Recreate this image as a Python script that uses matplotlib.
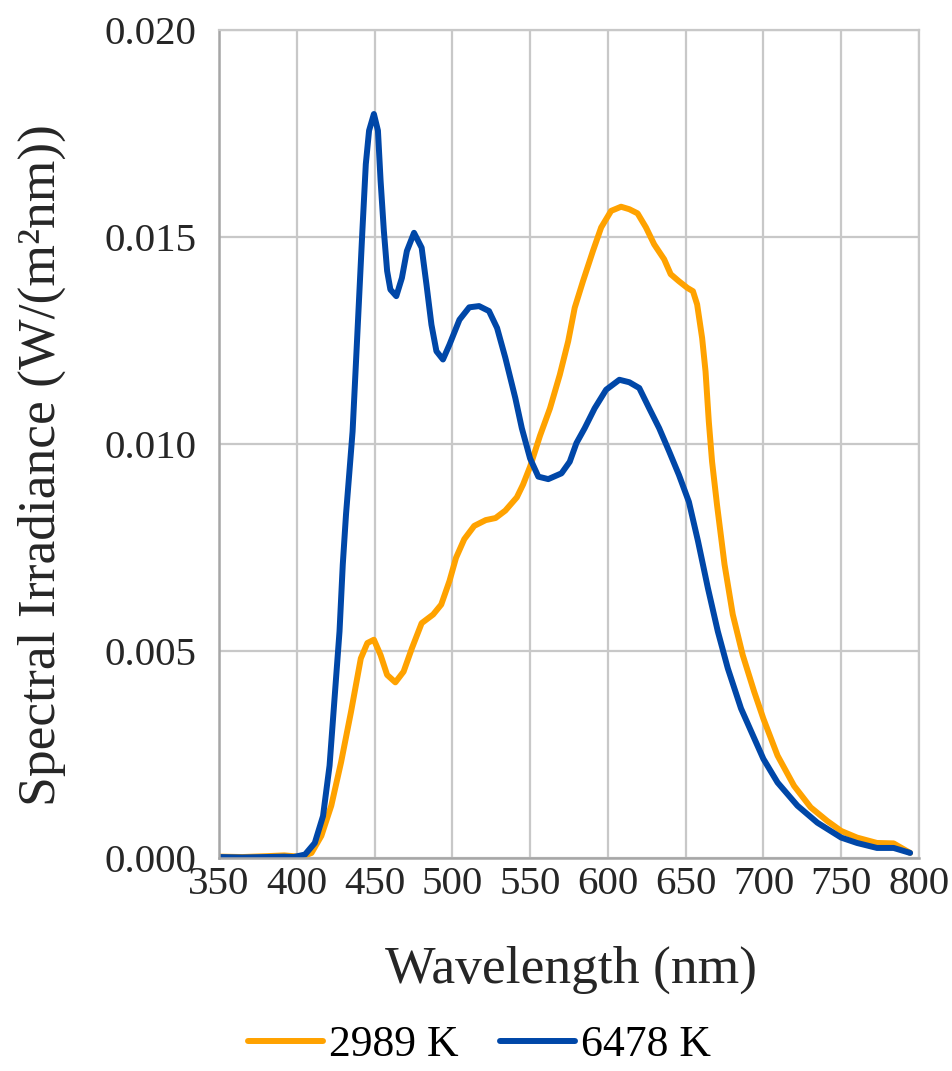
import matplotlib
matplotlib.use('Agg')
import matplotlib.pyplot as plt

plt.rcParams['font.family'] = ['Liberation Serif', 'DejaVu Serif']

# 2989 K spectrum
wl_warm = [350, 365, 380, 392, 398, 403.2, 409.5, 415.8, 422.2, 428.5, 434.9, 441.2, 445.4,
           449.6, 453.9, 458.1, 463.4, 468.7, 474, 480.3, 487.7, 492.9, 498.2, 502.4,
           507.7, 514.1, 521.5, 527.8, 534.1, 541.5, 545.5, 550, 556.4, 562.8, 569.1,
           574.5, 578.7, 584, 590.4, 595.7, 602.1, 608.5, 613.8, 619.1, 624.5, 629.8,
           636.2, 640.4, 645.7, 651.1, 654.7, 657.4, 660.6, 662.8, 664.9, 667, 670.2,
           675, 680.3, 686.7, 694.1, 700, 709.1, 719.7, 730.4, 741.1, 750, 760.2, 773,
           783.7, 794.3]
irr_warm = [0.00003, 0.00002, 0.00004, 0.00006, 0.00004, 0.00002, 0.00012, 0.00053, 0.00126,
            0.00231, 0.00353, 0.00482, 0.00519, 0.00527, 0.0049, 0.00442, 0.00424,
            0.0045, 0.00506, 0.00567, 0.00588, 0.00612, 0.00669, 0.00725, 0.0077,
            0.00802, 0.00816, 0.00821, 0.00839, 0.00871, 0.00902, 0.00945, 0.0102,
            0.01086, 0.01167, 0.01248, 0.01329, 0.01393, 0.01466, 0.01523, 0.01563,
            0.01573, 0.01567, 0.01557, 0.01523, 0.01482, 0.01446, 0.0141, 0.01393,
            0.01377, 0.01369, 0.01337, 0.01256, 0.01175, 0.01054, 0.00957, 0.00852,
            0.00709, 0.00588, 0.0049, 0.00401, 0.00336, 0.00247, 0.00174, 0.00122,
            0.00089, 0.00065, 0.00049, 0.00036, 0.00035, 0.00012]

# 6478 K spectrum
wl_cool = [350, 365, 380, 392, 398, 405.3, 411.6, 416.9, 421.1, 424.3, 427.5, 429.6, 431.7,
           433.8, 435.9, 438, 440.1, 442.2, 444.4, 446.5, 449.6, 452.2, 453.9, 456,
           458.1, 460.2, 464, 467.6, 470.8, 475.4, 480.3, 483.4, 486.6, 489.8, 494,
           498.2, 504.6, 510.9, 517.2, 523.6, 528.8, 534.1, 540.5, 544.7, 550, 555.3,
           561.7, 570.2, 575.5, 579.8, 585.1, 591.5, 598.9, 607.4, 613.8, 620.2, 626.6,
           633, 639.4, 645.7, 652.1, 657.9, 664.3, 670.7, 677.1, 685.6, 694.2, 700,
           709.1, 721.9, 734.7, 750, 760.2, 773, 783.7, 794.3]
irr_cool = [0.00002, 0.00001, 0.00002, 0.00003, 0.00002, 0.00008, 0.00036, 0.00101, 0.00223,
            0.00385, 0.00547, 0.00709, 0.00831, 0.0093, 0.0103, 0.01191, 0.01353,
            0.01515, 0.01676, 0.01757, 0.01797, 0.01757, 0.01636, 0.01515, 0.01418,
            0.01373, 0.01357, 0.01401, 0.01466, 0.0151, 0.01474, 0.01385, 0.01288,
            0.01224, 0.01204, 0.0124, 0.013, 0.0133, 0.01333, 0.01321, 0.0128, 0.01208,
            0.01111, 0.01038, 0.00965, 0.00921, 0.00915, 0.00929, 0.00957, 0.01002,
            0.01038, 0.01086, 0.01131, 0.01155, 0.01149, 0.01135, 0.01086, 0.01038,
            0.00982, 0.00925, 0.0086, 0.00766, 0.00652, 0.00547, 0.00458, 0.00361,
            0.00288, 0.00239, 0.00182, 0.00126, 0.00085, 0.00049, 0.00036, 0.00024,
            0.00024, 0.00012]

x_ticks = [350, 400, 450, 500, 550, 600, 650, 700, 750, 800]
y_ticks = [0.000, 0.005, 0.010, 0.015, 0.020]

fig = plt.figure(figsize=(9.52, 10.71), dpi=100)
ax = fig.add_axes([0.230, 0.199, 0.7353, 0.773])

ax.plot(wl_warm, irr_warm, color='#FFA200', lw=4.3, label='2989 K',
        solid_capstyle='round', solid_joinstyle='round')
ax.plot(wl_cool, irr_cool, color='#0047A8', lw=4.3, label='6478 K',
        solid_capstyle='round', solid_joinstyle='round')

ax.set_xlim(350, 800)
ax.set_ylim(0, 0.020)
ax.set_xticks(x_ticks)
ax.set_yticks(y_ticks)
ax.set_yticklabels([f'{v:.3f}' for v in y_ticks])
ax.tick_params(length=0, labelsize=29.5, colors='#262626')
ax.tick_params(axis='x', pad=6)
ax.tick_params(axis='y', pad=16)
ax.grid(True, color='#c8c8c8', lw=1.6)
ax.set_axisbelow(True)
for side in ['top', 'right']:
    ax.spines[side].set_color('#c8c8c8')
    ax.spines[side].set_linewidth(1.6)
for side in ['left', 'bottom']:
    ax.spines[side].set_color('#a6a6a6')
    ax.spines[side].set_linewidth(1.8)

ax.set_xlabel('Wavelength (nm)', fontsize=38.5, color='#262626')
ax.xaxis.set_label_coords(0.503, -0.106)
ax.set_ylabel('Spectral Irradiance (W/(m²nm))', fontsize=38.5, color='#262626')
ax.yaxis.set_label_coords(-0.218, 0.475)

fig.legend(loc='center', bbox_to_anchor=(0.504, 0.024), ncol=2, frameon=False,
           fontsize=31.5, handlelength=1.71, handletextpad=0.14, columnspacing=0.94)

fig.savefig('out.png', dpi=100)
